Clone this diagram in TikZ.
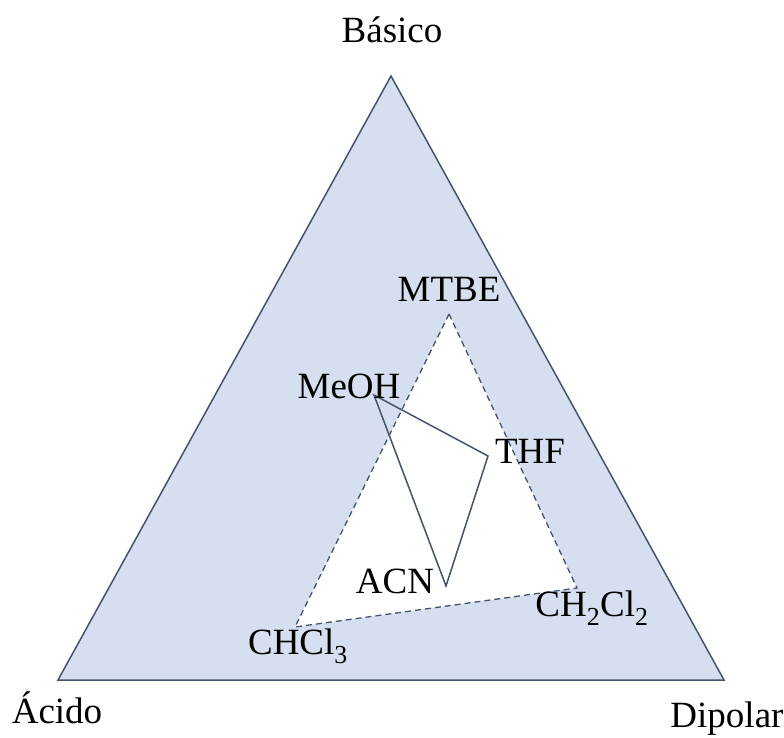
\documentclass[tikz,border=0pt]{standalone}
\usepackage{fontspec}
\setmainfont{Liberation Serif}
\definecolor{ejefill}{RGB}{214,223,239}
\definecolor{ejeline}{RGB}{68,84,106}
\begin{document}
\begin{tikzpicture}[x=1pt, y=-1pt,
    lbl/.style={font=\fontsize{37}{40}\selectfont, inner sep=0pt}]
    \useasboundingbox (0,0) rectangle (784,737);
    % vertices
    \coordinate (basico) at (391,76);
    \coordinate (acido) at (58,680);
    \coordinate (dipolar) at (724,680);
    \coordinate (mtbe) at (449,314);
    \coordinate (chcl3) at (295,627);
    \coordinate (ch2cl2) at (577,588);
    \coordinate (meoh) at (374,395);
    \coordinate (thf) at (488,456);
    \coordinate (acn) at (446,586);

    \draw [ejeline, fill=ejefill, line width=1.5pt] (basico) -- (acido) -- (dipolar) -- cycle ;
    \draw [ejeline, fill=white, line width=1.3pt, dash pattern=on 6pt off 4pt] (mtbe) -- (chcl3) -- (ch2cl2) -- cycle ;
    \draw [ejeline, line width=1.5pt, line join=miter] (meoh) -- (thf) -- (acn) -- cycle ;

    % labels
    \node [lbl] (lbasico) at (392,30) {Básico} ;
    \node [lbl] (lacido) at (57,708) {Ácido} ;
    \node [lbl] (ldipolar) at (727,719) {Dipolar} ;
    \node [lbl] (lmtbe) at (449,289) {MTBE} ;
    \node [lbl] (lmeoh) at (349,386) {MeOH} ;
    \node [lbl] (lthf) at (530,451) {THF} ;
    \node [lbl] (lacn) at (395,581) {ACN} ;
    \node [lbl] (lchcl3) at (298,646) {CHCl\textsubscript{3}} ;
    \node [lbl] (lch2cl2) at (592,608) {CH\textsubscript{2}Cl\textsubscript{2}} ;
\end{tikzpicture}
\end{document}
